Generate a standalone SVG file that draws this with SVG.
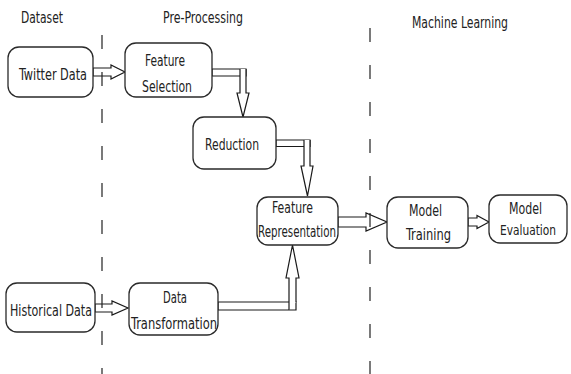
<svg xmlns="http://www.w3.org/2000/svg" width="571" height="374" viewBox="0 0 571 374">
<style>
.bg{fill:#fff}
.box{fill:#fff;stroke:#2a2a2a;stroke-width:1.3}
.t{font-family:"Liberation Sans Narrow","DejaVu Sans Condensed","Liberation Sans",sans-serif;font-size:16px;fill:#222;text-anchor:middle}
.arr{fill:#fff;stroke:#1a1a1a;stroke-width:1.2;stroke-linejoin:miter}
.dash{stroke:#222;stroke-width:1.2;stroke-dasharray:14 23;fill:none}
</style>
<rect class="bg" x="0" y="0" width="571" height="374"/>
<g id="headers">
<text class="t" x="42" y="23" textLength="42" lengthAdjust="spacingAndGlyphs">Dataset</text>
<text class="t" x="203" y="23" textLength="80" lengthAdjust="spacingAndGlyphs">Pre-Processing</text>
<text class="t" x="460" y="28" textLength="96" lengthAdjust="spacingAndGlyphs">Machine Learning</text>
</g>
<g id="connectors">
<path class="arr" d="M93,68 H111 V65 L125,72 L111,79 V76 H93 Z"/>
<path class="arr" d="M95,304 H112 V301 L128,308 L112,315 V312 H95 Z"/>
<path class="arr" d="M212,69 H246 V76 H212 Z"/>
<path class="arr" d="M240,69 V93 H237 L243,117 L249,93 H246 V69"/>
<path class="arr" d="M276,140 H310 V146.5 H276 Z"/>
<path class="arr" d="M304,140 V166 H301 L307.5,196 L313,166 H310 V140"/>
<path class="arr" d="M218,302 H296 V310 H218 Z"/>
<path class="arr" d="M289,310 V278 H286 L292.5,245 L299,278 H296 V302"/>
<path class="arr" d="M338,217 H366 V213 L387,222 L366,231 V227 H338 Z"/>
<path class="arr" d="M468,218 H477 V215.5 L489,222 L477,228.5 V226 H468 Z"/>
</g>
<g id="twitter-data">
<rect class="box" x="8" y="47" width="85" height="50" rx="11"/>
<text class="t" x="53" y="80" textLength="68" lengthAdjust="spacingAndGlyphs">Twitter Data</text>
</g>
<g id="feature-selection">
<rect class="box" x="125" y="43" width="87" height="54" rx="11"/>
<text class="t" x="165" y="66" textLength="40" lengthAdjust="spacingAndGlyphs">Feature</text>
<text class="t" x="167" y="92" textLength="50" lengthAdjust="spacingAndGlyphs">Selection</text>
</g>
<g id="reduction">
<rect class="box" x="193" y="117" width="83" height="52" rx="11"/>
<text class="t" x="232" y="150" textLength="54" lengthAdjust="spacingAndGlyphs">Reduction</text>
</g>
<g id="feature-representation">
<rect class="box" x="257" y="197" width="81" height="48" rx="11"/>
<text class="t" x="292.5" y="213" textLength="41" lengthAdjust="spacingAndGlyphs">Feature</text>
<text class="t" x="297" y="237" textLength="78" lengthAdjust="spacingAndGlyphs">Representation</text>
</g>
<g id="model-training">
<rect class="box" x="387" y="197" width="81" height="51" rx="11"/>
<text class="t" x="425.5" y="216" textLength="33" lengthAdjust="spacingAndGlyphs">Model</text>
<text class="t" x="428.5" y="240" textLength="45" lengthAdjust="spacingAndGlyphs">Training</text>
</g>
<g id="model-evaluation">
<rect class="box" x="489" y="195" width="78" height="48" rx="11"/>
<text class="t" x="525.5" y="214" textLength="33" lengthAdjust="spacingAndGlyphs">Model</text>
<text class="t" x="528" y="235" style="font-size:14.5px" textLength="56" lengthAdjust="spacingAndGlyphs">Evaluation</text>
</g>
<g id="historical-data">
<rect class="box" x="6" y="283" width="89" height="49" rx="11"/>
<text class="t" x="51" y="316" textLength="82" lengthAdjust="spacingAndGlyphs">Historical Data</text>
</g>
<g id="data-transformation">
<rect class="box" x="129" y="283" width="89" height="52" rx="11"/>
<text class="t" x="175" y="303" textLength="24" lengthAdjust="spacingAndGlyphs">Data</text>
<text class="t" x="174" y="329" textLength="86" lengthAdjust="spacingAndGlyphs">Transformation</text>
</g>
<g id="dividers">
<line class="dash" x1="102" y1="35" x2="102" y2="374"/>
<line class="dash" x1="370" y1="28" x2="370" y2="374"/>
</g>
</svg>
